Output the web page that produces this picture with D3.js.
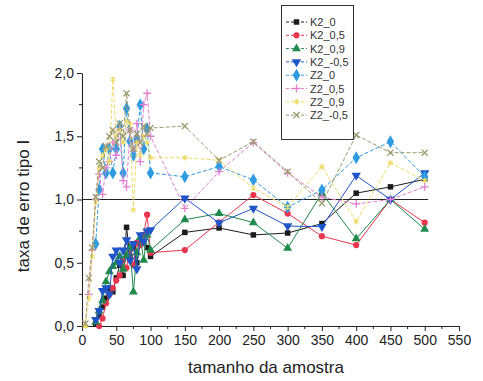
<!DOCTYPE html>
<html><head><meta charset="utf-8">
<script src="https://cdn.jsdelivr.net/npm/d3@7"></script>
<style>html,body{margin:0;padding:0;background:#fff;}svg{display:block;font-family:"Liberation Sans",Arial,sans-serif;}</style>
</head><body><svg id="c" width="483" height="381"></svg>
<script>
const sampleSizes = [5,10,15,20,25,30,35,40,45,50,55,60,65,70,75,80,85,90,95,100,150,200,250,300,350,400,450,500];
const seriesNames = ["K2_0","K2_0,5","K2_0,9","K2_-0,5","Z2_0","Z2_0,5","Z2_0,9","Z2_-0,5"];
const K2_0   = [null,null,null,0.02,0.08,0.15,0.22,0.30,0.27,0.38,0.48,0.40,0.78,0.55,0.62,0.50,0.66,0.72,0.62,0.55, 0.74,0.775,0.72,0.735,0.81,1.05,1.10,1.16];
const K2_05  = [null,null,null,null,0.00,0.06,0.18,0.25,0.30,0.36,0.40,0.52,0.46,0.60,0.48,0.66,0.64,0.72,0.88,0.58, 0.60,0.82,1.035,0.89,0.71,0.64,1.00,0.817];
const K2_09  = [null,null,null,0.03,0.12,0.20,0.35,0.43,0.47,0.50,0.55,0.45,0.56,0.62,0.27,0.58,0.70,0.52,0.72,0.60, 0.84,0.89,0.817,0.615,1.05,0.69,1.00,0.765];
const K2_m05 = [null,null,null,0.05,0.12,0.28,0.30,0.25,0.55,0.60,0.50,0.60,0.68,0.52,0.65,0.45,0.72,0.67,0.75,0.76, 1.01,0.815,0.93,0.79,0.785,1.19,1.00,1.21];
const Z2_0   = [null,null,null,0.65,1.08,1.40,1.21,1.40,1.21,1.40,1.58,1.21,1.72,1.46,1.35,1.48,1.75,1.40,1.56,1.21, 1.18,1.26,1.155,0.94,1.075,1.33,1.457,1.18];
const Z2_05  = [null,0.25,0.60,1.00,1.20,1.04,1.25,1.30,1.45,1.35,1.55,1.15,1.10,1.55,1.40,1.60,1.30,1.75,1.84,1.50, 0.93,1.22,1.45,1.21,1.02,0.965,1.00,1.10];
const Z2_09  = [0.00,0.22,0.55,0.98,1.25,1.35,1.40,1.30,1.95,1.50,1.55,1.45,1.62,1.60,0.92,1.45,1.35,1.50,1.45,1.33, 1.33,1.31,1.09,0.94,1.26,0.825,1.29,1.15];
const Z2_m05 = [0.02,0.38,0.62,1.02,1.30,1.25,1.42,1.50,1.55,1.45,1.60,1.50,1.84,1.55,1.40,1.52,1.45,1.58,1.52,1.565, 1.58,1.31,1.457,1.22,0.97,1.51,1.37,1.37];
const seriesValues = [K2_0,K2_05,K2_09,K2_m05,Z2_0,Z2_05,Z2_09,Z2_m05];
const xTicks = [0,50,100,150,200,250,300,350,400,450,500,550];
const yTicks = [0,0.5,1.0,1.5,2.0];
const refValue = 1.0;

const colors = ["#1b1b1b","#e8364e","#1f8a4c","#1f55c8","#2f9be0","#e27fcf","#eedc6a","#9c9a6c"];
const dashes = [null,null,null,null,"4,2","4,2","4,2","4,2"];
const symTimes = d3.symbolTimes || d3.symbolX || d3.symbolCross;
const symAst = d3.symbolAsterisk || symTimes;
const symbols = [
  {t:d3.symbolSquare,s:30,fill:true},
  {t:d3.symbolCircle,s:30,fill:true},
  {t:d3.symbolTriangle,s:34,fill:true},
  {t:d3.symbolTriangle,s:38,fill:true,rot:180},
  {t:d3.symbolDiamond,s:48,fill:true},
  {t:d3.symbolPlus||d3.symbolCross,s:22,fill:false},
  {t:symAst,s:22,fill:false},
  {t:symTimes,s:26,fill:false}
];

const svg = d3.select("#c");
const x = d3.scaleLinear().domain([0,550]).range([82,459]);
const y = d3.scaleLinear().domain([0,2]).range([326,73]);
const fmt = d => d.toFixed(1).replace(".", ",");

const xAxis = d3.axisBottom(x).tickValues(xTicks).tickSize(5).tickSizeOuter(0).tickPadding(4).tickFormat(d3.format("d"));
const gx = svg.append("g").attr("transform","translate(0,326)").call(xAxis);
const yAxis = d3.axisLeft(y).tickValues(yTicks).tickSize(5).tickSizeOuter(0).tickPadding(3).tickFormat(fmt);
const gy = svg.append("g").attr("transform","translate(82,0)").call(yAxis);
[gx,gy].forEach(g=>{
  g.select(".domain").attr("stroke","#222").attr("stroke-width",1.1);
  g.selectAll(".tick line").attr("stroke","#222");
  g.selectAll("text").attr("font-size",14).attr("fill","#222").attr("font-family","'Liberation Sans',Arial,sans-serif");
});
const xMinor = d3.range(25,550,50);
svg.append("g").selectAll("line").data(xMinor).join("line")
  .attr("x1",d=>x(d)).attr("x2",d=>x(d)).attr("y1",326).attr("y2",329).attr("stroke","#222");
const yMinor = [0.25,0.75,1.25,1.75];
svg.append("g").selectAll("line").data(yMinor).join("line")
  .attr("x1",79).attr("x2",82).attr("y1",d=>y(d)).attr("y2",d=>y(d)).attr("stroke","#222");

svg.append("text").attr("x",266).attr("y",373).attr("text-anchor","middle")
  .attr("font-size",17).attr("fill","#222").text("tamanho da amostra");
svg.append("text").attr("transform","translate(29,206) rotate(-90)").attr("text-anchor","middle")
  .attr("font-size",17).attr("fill","#222").text("taxa de erro tipo I");

svg.append("line").attr("x1",x(0)).attr("x2",x(505)).attr("y1",y(refValue)).attr("y2",y(refValue))
  .attr("stroke","#222").attr("stroke-width",1);

const line = d3.line().defined(d=>d[1]!=null).x(d=>x(d[0])).y(d=>y(d[1]));
function drawMarker(g, i, cx, cy){
  const sym = symbols[i];
  const p = g.append("path").attr("d", d3.symbol().type(sym.t).size(sym.s)())
    .attr("transform",`translate(${cx},${cy})` + (sym.rot?` rotate(${sym.rot})`:""));
  if (sym.fill) p.attr("fill",colors[i]).attr("stroke","none");
  else p.attr("fill","none").attr("stroke",colors[i]).attr("stroke-width",1.3);
}
seriesValues.forEach((vals,i)=>{
  const pts = sampleSizes.map((n,j)=>[n,vals[j]]);
  const g = svg.append("g");
  g.append("path").attr("d",line(pts)).attr("fill","none").attr("stroke",colors[i])
    .attr("stroke-width",1).attr("stroke-dasharray",dashes[i]);
  pts.filter(p=>p[1]!=null).forEach(p=>drawMarker(g,i,x(p[0]),y(p[1])));
});

const lg = svg.append("g");
lg.append("rect").attr("x",281.5).attr("y",5.5).attr("width",72).attr("height",134)
  .attr("fill","#fff").attr("stroke","#333").attr("stroke-width",1);
seriesNames.forEach((name,i)=>{
  const ly = 22 + i*13.3;
  lg.append("line").attr("x1",286).attr("x2",307).attr("y1",ly).attr("y2",ly)
    .attr("stroke",colors[i]).attr("stroke-width",1).attr("stroke-dasharray","3,2");
  drawMarker(lg,i,296.5,ly);
  lg.append("text").attr("x",310).attr("y",ly+4).attr("font-size",11).attr("fill","#333").text(name);
});
</script></body></html>
